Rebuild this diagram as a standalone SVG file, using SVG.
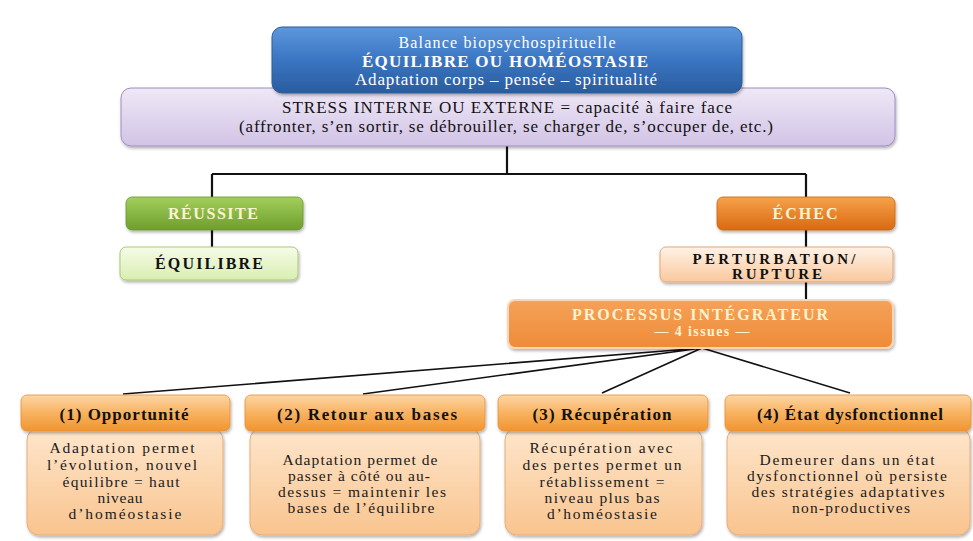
<svg xmlns="http://www.w3.org/2000/svg" width="973" height="541" viewBox="0 0 973 541">
<defs>
<linearGradient id="gBlue" x1="0" y1="0" x2="0" y2="1"><stop offset="0" stop-color="#5d97dc"/><stop offset="0.5" stop-color="#3a75c2"/><stop offset="1" stop-color="#2a5c9e"/></linearGradient>
<linearGradient id="gPurple" x1="0" y1="0" x2="0" y2="1"><stop offset="0" stop-color="#efe8f6"/><stop offset="1" stop-color="#d2c3e6"/></linearGradient>
<linearGradient id="gGreen" x1="0" y1="0" x2="0" y2="1"><stop offset="0" stop-color="#a3cf5c"/><stop offset="1" stop-color="#6e9e2c"/></linearGradient>
<linearGradient id="gLGreen" x1="0" y1="0" x2="0" y2="1"><stop offset="0" stop-color="#f6fbe8"/><stop offset="1" stop-color="#d9eeb0"/></linearGradient>
<linearGradient id="gOrange" x1="0" y1="0" x2="0" y2="1"><stop offset="0" stop-color="#f7a24a"/><stop offset="1" stop-color="#d86a12"/></linearGradient>
<linearGradient id="gPeach" x1="0" y1="0" x2="0" y2="1"><stop offset="0" stop-color="#fff2e6"/><stop offset="1" stop-color="#f9c89e"/></linearGradient>
<linearGradient id="gProc" x1="0" y1="0" x2="0" y2="1"><stop offset="0" stop-color="#f5a259"/><stop offset="1" stop-color="#ee8b38"/></linearGradient>
<linearGradient id="gHead" x1="0" y1="0" x2="0" y2="1"><stop offset="0" stop-color="#fcd6a6"/><stop offset="0.5" stop-color="#f8b260"/><stop offset="1" stop-color="#f0952f"/></linearGradient>
<linearGradient id="gBody" x1="0" y1="0" x2="0" y2="1"><stop offset="0" stop-color="#fee6cc"/><stop offset="1" stop-color="#f9c48e"/></linearGradient>
<filter id="sh" x="-10%" y="-20%" width="120%" height="150%"><feDropShadow dx="1" dy="2" stdDeviation="1.8" flood-color="#000" flood-opacity="0.3"/></filter>
</defs>
<style>
text{font-family:"Liberation Serif","DejaVu Serif","Times New Roman",serif;text-anchor:middle}
.w{fill:#ffffff}
.cr{fill:#fbf3d2;font-weight:bold}
.b{font-weight:bold;fill:#111}
.n{fill:#1a1a1a;font-size:15.5px}
.conn{stroke:#111;fill:none}
</style>
<rect width="973" height="541" fill="#ffffff"/>
<g id="connectors">
<path class="conn" stroke-width="2.2" d="M507 146V174M212 174H806M212 174V197M806 174V197M212 230V247M806 230V247M806 282V300"/>
<path class="conn" stroke-width="1.6" d="M702 348L123 394M702 348L363 394M702 348L602 393M702 348L850 393"/>
</g>
<g id="purple">
<rect x="121" y="88" width="774" height="58" rx="10" fill="url(#gPurple)" stroke="#9e8cc0" stroke-width="1" filter="url(#sh)"/>
<text x="507" y="113" font-size="17" fill="#111" textLength="450" lengthAdjust="spacing">STRESS INTERNE OU EXTERNE = capacité à faire face</text>
<text x="506" y="132" font-size="17" fill="#111" textLength="534" lengthAdjust="spacing">(affronter, s’en sortir, se débrouiller, se charger de, s’occuper de, etc.)</text>
</g>
<g id="top">
<rect x="272" y="27" width="470" height="66" rx="10" fill="url(#gBlue)" stroke="#2d5c98" stroke-width="1" filter="url(#sh)"/>
<text class="w" x="507" y="48" font-size="16" textLength="217" lengthAdjust="spacing">Balance biopsychospirituelle</text>
<text class="w" x="505" y="67" font-size="17" font-weight="bold" textLength="286" lengthAdjust="spacing">ÉQUILIBRE OU HOMÉOSTASIE</text>
<text class="w" x="506" y="85" font-size="17" textLength="302" lengthAdjust="spacing">Adaptation corps – pensée – spiritualité</text>
</g>
<g id="reussite">
<rect x="126" y="197" width="177" height="33" rx="6" fill="url(#gGreen)" stroke="#6a962e" stroke-width="0.8" filter="url(#sh)"/>
<text class="cr" x="213" y="219" font-size="16" textLength="90" lengthAdjust="spacing">RÉUSSITE</text>
</g>
<g id="equilibre">
<rect x="120" y="247" width="178" height="33" rx="6" fill="url(#gLGreen)" stroke="#a9c978" stroke-width="1" filter="url(#sh)"/>
<text class="b" x="209" y="269" font-size="16" textLength="108" lengthAdjust="spacing">ÉQUILIBRE</text>
</g>
<g id="echec">
<rect x="717" y="197" width="178" height="33" rx="6" fill="url(#gOrange)" stroke="#c8640f" stroke-width="0.8" filter="url(#sh)"/>
<text class="cr" x="805" y="219" font-size="16" textLength="65" lengthAdjust="spacing">ÉCHEC</text>
</g>
<g id="perturbation">
<rect x="660" y="247" width="233" height="35" rx="6" fill="url(#gPeach)" stroke="#e3a878" stroke-width="1" filter="url(#sh)"/>
<text class="b" x="774" y="264" font-size="15" textLength="163" lengthAdjust="spacing">PERTURBATION/</text>
<text class="b" x="777" y="279" font-size="15" textLength="90" lengthAdjust="spacing">RUPTURE</text>
</g>
<g id="processus">
<rect x="508" y="300" width="385" height="48" rx="7" fill="url(#gProc)" stroke="#f8d6b8" stroke-width="2" filter="url(#sh)"/>
<text class="cr" x="700" y="320" font-size="16" textLength="256" lengthAdjust="spacing">PROCESSUS INTÉGRATEUR</text>
<text class="cr" x="702" y="336" font-size="14" textLength="95" lengthAdjust="spacing">— 4 issues —</text>
</g>
<g id="issue1">
<rect x="27" y="428" width="196" height="107" rx="12" fill="url(#gBody)" stroke="#e6ae7a" stroke-width="1" filter="url(#sh)"/>
<rect x="21" y="395" width="209" height="36" rx="6" fill="url(#gHead)" stroke="#e8913a" stroke-width="0.8" filter="url(#sh)"/>
<text class="b" x="124" y="420" font-size="17" textLength="129" lengthAdjust="spacing">(1) Opportunité</text>
<text class="n" x="122" y="453" textLength="145" lengthAdjust="spacing">Adaptation permet</text>
<text class="n" x="122" y="470" textLength="150" lengthAdjust="spacing">l’évolution, nouvel</text>
<text class="n" x="121" y="487" textLength="117" lengthAdjust="spacing">équilibre = haut</text>
<text class="n" x="120" y="503" textLength="45" lengthAdjust="spacing">niveau</text>
<text class="n" x="125" y="519" textLength="113" lengthAdjust="spacing">d’homéostasie</text>
</g>
<g id="issue2">
<rect x="250" y="428" width="230" height="107" rx="12" fill="url(#gBody)" stroke="#e6ae7a" stroke-width="1" filter="url(#sh)"/>
<rect x="245" y="395" width="240" height="36" rx="6" fill="url(#gHead)" stroke="#e8913a" stroke-width="0.8" filter="url(#sh)"/>
<text class="b" x="367" y="420" font-size="17" textLength="180" lengthAdjust="spacing">(2) Retour aux bases</text>
<text class="n" x="360" y="465" textLength="155" lengthAdjust="spacing">Adaptation permet de</text>
<text class="n" x="359" y="481" textLength="142" lengthAdjust="spacing">passer à côté ou au-</text>
<text class="n" x="362" y="497" textLength="168" lengthAdjust="spacing">dessus = maintenir les</text>
<text class="n" x="361" y="513" textLength="147" lengthAdjust="spacing">bases de l’équilibre</text>
</g>
<g id="issue3">
<rect x="505" y="428" width="197" height="107" rx="12" fill="url(#gBody)" stroke="#e6ae7a" stroke-width="1" filter="url(#sh)"/>
<rect x="498" y="395" width="210" height="36" rx="6" fill="url(#gHead)" stroke="#e8913a" stroke-width="0.8" filter="url(#sh)"/>
<text class="b" x="602" y="420" font-size="17" textLength="139" lengthAdjust="spacing">(3) Récupération</text>
<text class="n" x="601" y="453" textLength="143" lengthAdjust="spacing">Récupération avec</text>
<text class="n" x="602" y="470" textLength="159" lengthAdjust="spacing">des pertes permet un</text>
<text class="n" x="602" y="487" textLength="125" lengthAdjust="spacing">rétablissement =</text>
<text class="n" x="602" y="503" textLength="115" lengthAdjust="spacing">niveau plus bas</text>
<text class="n" x="602" y="519" textLength="110" lengthAdjust="spacing">d’homéostasie</text>
</g>
<g id="issue4">
<rect x="727" y="428" width="243" height="107" rx="12" fill="url(#gBody)" stroke="#e6ae7a" stroke-width="1" filter="url(#sh)"/>
<rect x="725" y="395" width="246" height="36" rx="6" fill="url(#gHead)" stroke="#e8913a" stroke-width="0.8" filter="url(#sh)"/>
<text class="b" x="850" y="420" font-size="17" textLength="186" lengthAdjust="spacing">(4) État dysfonctionnel</text>
<text class="n" x="847" y="465" textLength="175" lengthAdjust="spacing">Demeurer dans un état</text>
<text class="n" x="847" y="481" textLength="200" lengthAdjust="spacing">dysfonctionnel où persiste</text>
<text class="n" x="848" y="497" textLength="193" lengthAdjust="spacing">des stratégies adaptatives</text>
<text class="n" x="851" y="513" textLength="118" lengthAdjust="spacing">non-productives</text>
</g>
</svg>
